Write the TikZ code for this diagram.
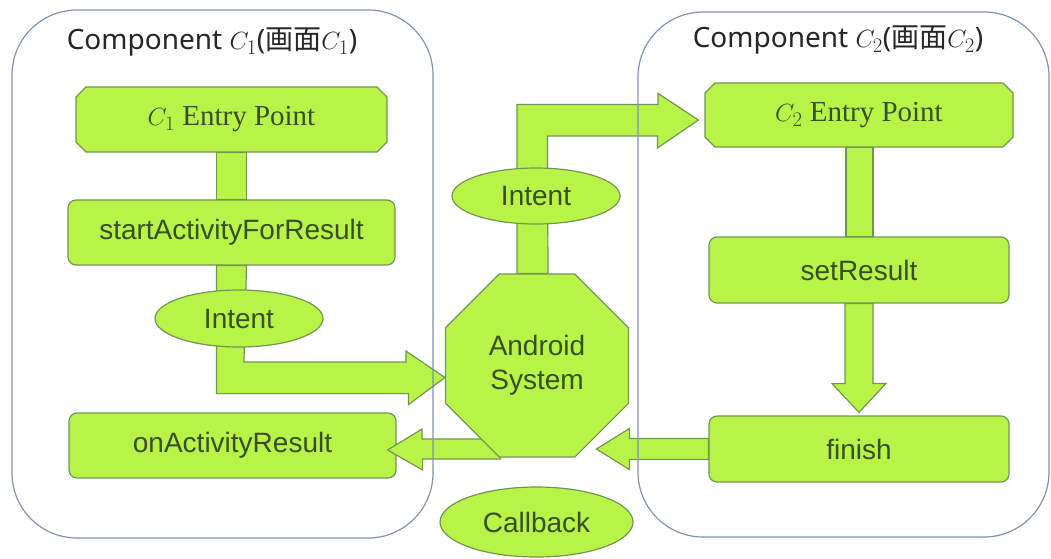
\documentclass[tikz,border=0pt]{standalone}
\usepackage{fontspec}
\setmainfont{Liberation Serif}
\setsansfont{Liberation Sans}
\newfontfamily\titlefont{Noto Sans}
\newfontfamily\jpfont{Noto Sans CJK JP}
\usetikzlibrary{shapes.geometric,shapes.misc,calc}
\definecolor{boxfill}{RGB}{184,244,72}
\definecolor{boxedge}{RGB}{112,150,82}
\definecolor{boxtext}{RGB}{58,78,36}
\definecolor{compedge}{RGB}{128,148,178}
\pgfdeclarelayer{back}
\pgfsetlayers{back,main}
\tikzset{
  blk/.style={fill=boxfill, draw=boxedge, line width=1.2pt, line join=miter},
  ent/.style={chamfered rectangle, chamfered rectangle xsep=5pt, chamfered rectangle ysep=5pt,
    fill=boxfill, draw=boxedge, line width=1.2pt, text=boxtext, inner sep=0pt,
    font=\fontsize{29}{34}\selectfont},
  fbox/.style={rectangle, rounded corners=8pt, fill=boxfill, draw=boxedge, line width=1.2pt,
    text=boxtext, inner sep=0pt, font=\sffamily\fontsize{28}{33}\selectfont},
  oval/.style={ellipse, fill=boxfill, draw=boxedge, line width=1.2pt, text=boxtext,
    inner sep=0pt, font=\sffamily\fontsize{28}{33}\selectfont},
  sysbox/.style={regular polygon, regular polygon sides=8, minimum size=198pt, inner sep=0pt,
    fill=boxfill, draw=boxedge, line width=1.2pt, text=boxtext, align=center,
    font=\sffamily\fontsize{28}{34}\selectfont},
  comp/.style={draw=compedge, line width=1.2pt, rounded corners=65pt},
  ttl/.style={text=black!85, inner sep=0pt, font=\titlefont\fontsize{28}{33}\selectfont}
}
\begin{document}
\begin{tikzpicture}[x=1pt,y=-1pt]
\useasboundingbox (0,0) rectangle (1051,558);

%%C1
\node[ttl] (t1) at (212,42) {Component $C_1$({\jpfont 画面}$C_1$)};
\node[ent, minimum width=311pt, minimum height=65pt] (e1) at (231.5,119.5) {$C_1$ Entry Point};
\node[fbox, minimum width=327pt, minimum height=65pt] (sfr) at (231.5,232.5) {startActivityForResult};
\node[oval, minimum width=168pt, minimum height=57pt] (int1) at (239,318.5) {Intent};
\node[fbox, minimum width=327pt, minimum height=65pt] (oar) at (232.5,445.5) {onActivityResult};

%%SYS
\coordinate (sc) at (537,365.5);
\draw[blk] ($(sc)+(-37,73.5)$) -- ++(-78,0) -- ++(0,-10) -- ($(oar.east)+(-9,4.5)$)
    -- ++(35,20) -- ++(0,-11) -- ++(78,0) -- cycle;
\node[sysbox] (sys) at (sc) {Android\\System};
\node[oval, minimum width=168pt, minimum height=56pt] (int2) at (536,196) {Intent};
\node[oval, minimum width=193pt, minimum height=70pt] (cb) at (536.5,522) {Callback};

%%C2
\node[ttl] (t2) at (838,40) {Component $C_2$({\jpfont 画面}$C_2$)};
\node[ent, minimum width=308pt, minimum height=64pt] (e2) at (859,115) {$C_2$ Entry Point};
\node[fbox, minimum width=300pt, minimum height=66pt] (sr) at (859,270) {setResult};
\node[fbox, minimum width=300pt, minimum height=66pt] (fin) at (859,449) {finish};

%%arrows
\begin{pgfonlayer}{back}
    \draw[blk] ([xshift=-15pt]e1.south) rectangle ([xshift=15pt]sfr.north);
    \draw[blk] ([xshift=-15pt]sfr.south) -- ++(0,128) -- ++(192,0) -- ++(0,11)
        -- ($(sys.west)+(0,12)$) -- ++(-39,-26.5) -- ++(0,11) -- ++(-162,0)
        -- ([xshift=15pt]sfr.south) -- cycle;
    \draw[blk] ([xshift=-20pt]sys.north) -- ++(0,-169) -- ++(141,0) -- ++(0,-11)
        -- ($(e2.west)+(-6,5)$) -- ++(-41,28) -- ++(0,-12) -- ++(-110,0)
        -- ([xshift=11pt]sys.north) -- cycle;
    \draw[blk] ([xshift=-13pt]e2.south) rectangle ([xshift=14pt]sr.north);
    \draw[blk] ([xshift=-14pt]sr.south) -- ++(0,80) -- ++(-13,0) -- ($(fin.north)+(0,-3)$)
        -- ++(27,-29) -- ++(-13,0) -- ([xshift=14pt]sr.south) -- cycle;
    \draw[blk] ($(fin.west)+(0,-10.5)$) -- ++(-79,0) -- ++(0,-10) -- ($(fin.west)+(-112,0)$)
        -- ++(33,20.5) -- ++(0,-10) -- ++(79,0) -- cycle;
\end{pgfonlayer}

%%frames
\draw[comp] (12,10) rectangle (433,538);
\draw[comp] (638,12) rectangle (1049,537);

\end{tikzpicture}
\end{document}
